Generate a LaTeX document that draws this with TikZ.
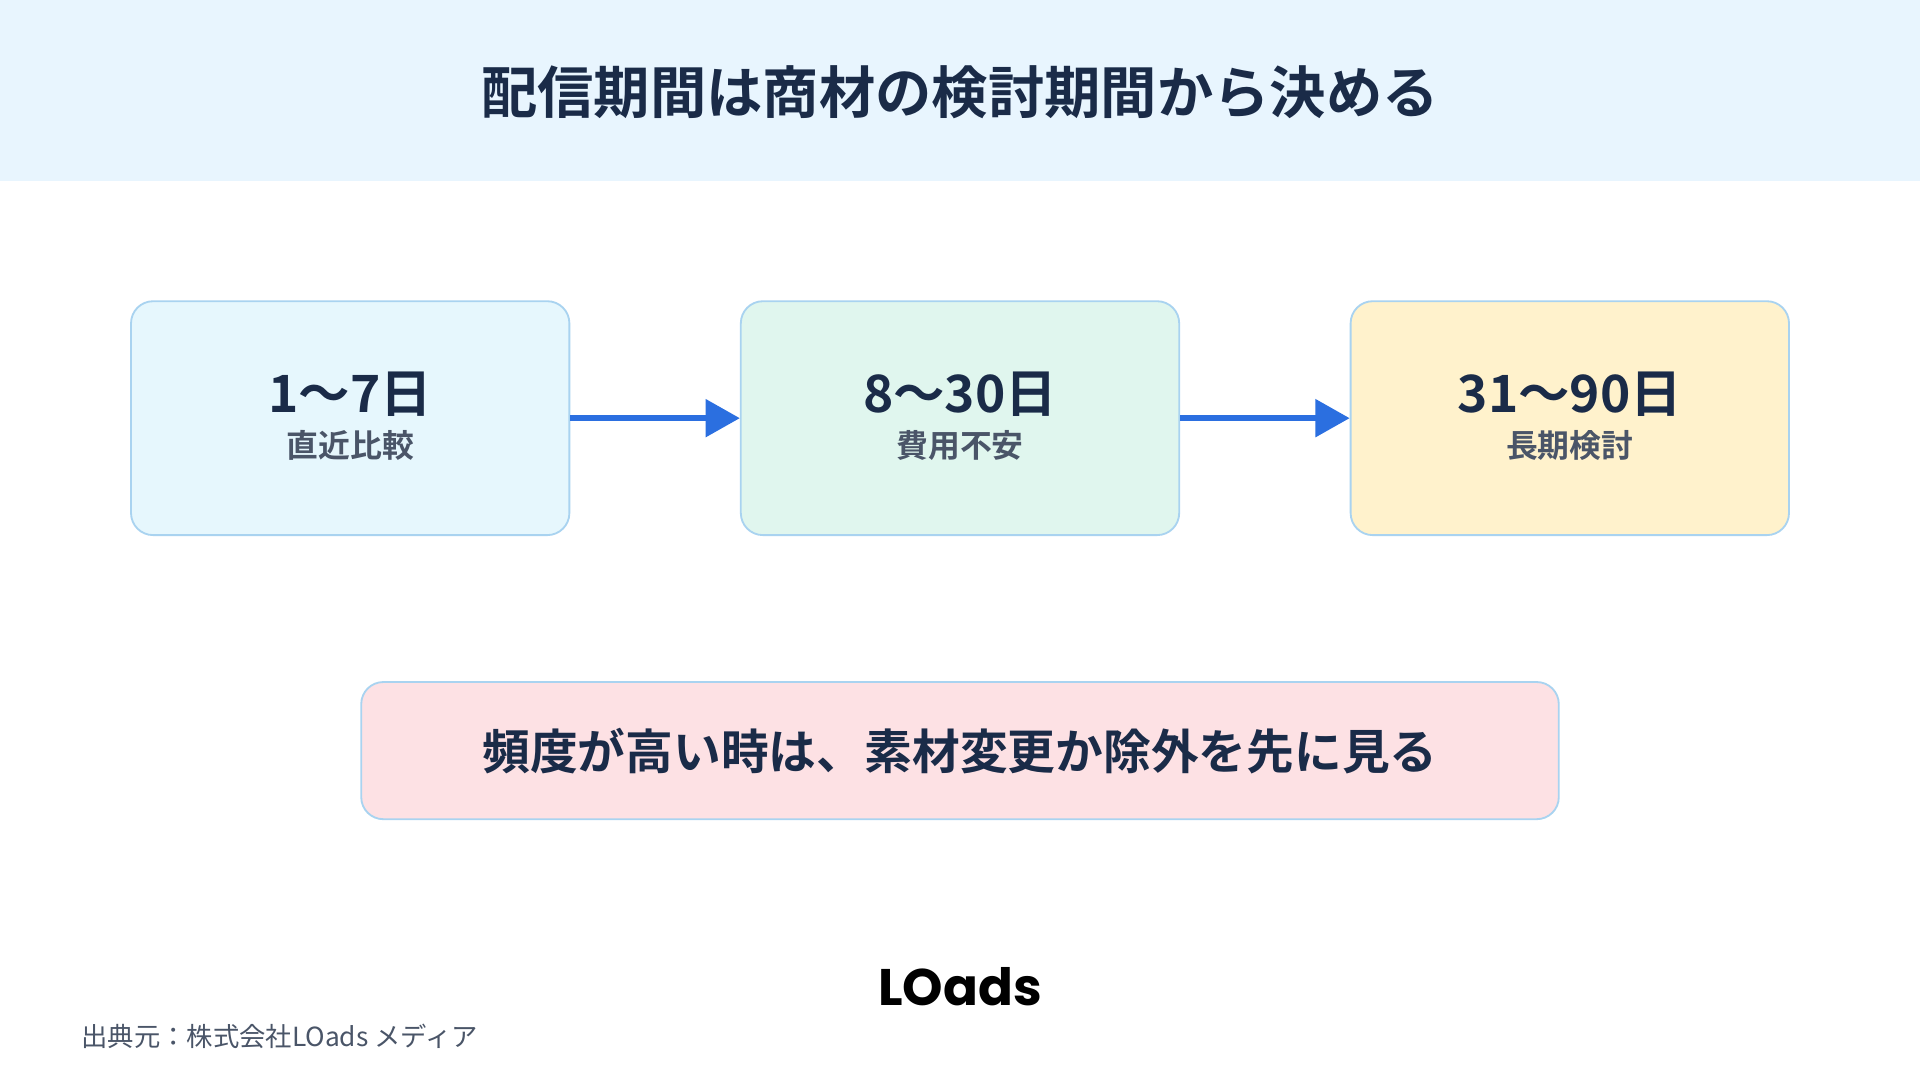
\documentclass[tikz,border=0pt]{standalone}
\usepackage{fontspec}
\setmainfont{Noto Sans CJK JP}
\newfontfamily\cjkb{Noto Sans CJK JP Bold}
\newfontfamily\logofont{Poppins}[UprightFont=* Bold]
\usetikzlibrary{arrows.meta}
\definecolor{hdr}{HTML}{E8F5FE}
\definecolor{navy}{HTML}{1A2B48}
\definecolor{subg}{HTML}{4A5568}
\definecolor{bord}{HTML}{A9D3F0}
\definecolor{c1}{HTML}{E6F7FD}
\definecolor{c2}{HTML}{E0F6EE}
\definecolor{c3}{HTML}{FFF2CC}
\definecolor{c4}{HTML}{FDE1E4}
\definecolor{arr}{HTML}{2B6FE0}
\tikzset{
  card/.style={draw=bord,line width=1.5pt,rounded corners=18pt,minimum width=358pt,minimum height=191pt},
  big/.style={font=\cjkb\fontsize{42}{46}\selectfont,text=navy},
  sub/.style={font=\cjkb\fontsize{26}{30}\selectfont,text=subg},
  link/.style={draw=arr,line width=5pt,-{Triangle[length=28pt,width=30pt]}}
}
\begin{document}
\begin{tikzpicture}[x=1pt,y=-1pt]
\useasboundingbox (0,0) rectangle (1568,882);
\fill[white] (0,0) rectangle (1568,882);
\fill[hdr] (0,0) rectangle (1568,148);
\node[font=\cjkb\fontsize{46}{50}\selectfont,text=navy] (title) at (784,75) {配信期間は商材の検討期間から決める};
\node[card,fill=c1] (b1) at (286,341.5) {};
\node[card,fill=c2] (b2) at (784,341.5) {};
\node[card,fill=c3] (b3) at (1282,341.5) {};
\node[big] (t1) at (286,322) {1〜7日};
\node[sub] (s1) at (286,364) {直近比較};
\node[big] (t2) at (784,322) {8〜30日};
\node[sub] (s2) at (784,364) {費用不安};
\node[big] (t3) at (1282,322) {31〜90日};
\node[sub] (s3) at (1282,364) {長期検討};
\draw[link] (b1.east) -- (b2.west);
\draw[link] (b2.east) -- (b3.west);
\node[draw=bord,line width=1.5pt,rounded corners=18pt,fill=c4,minimum width=978pt,minimum height=112pt,font=\cjkb\fontsize{39}{43}\selectfont,text=navy] (note) at (784,613) {頻度が高い時は、素材変更か除外を先に見る};
\node[font=\logofont\fontsize{42}{46}\selectfont,text=black] (logo) at (784,806) {LOads};
\node[anchor=west,font=\fontsize{21.5}{25}\selectfont,text=subg] (src) at (63,846) {出典元：株式会社LOads メディア};
\end{tikzpicture}
\end{document}
